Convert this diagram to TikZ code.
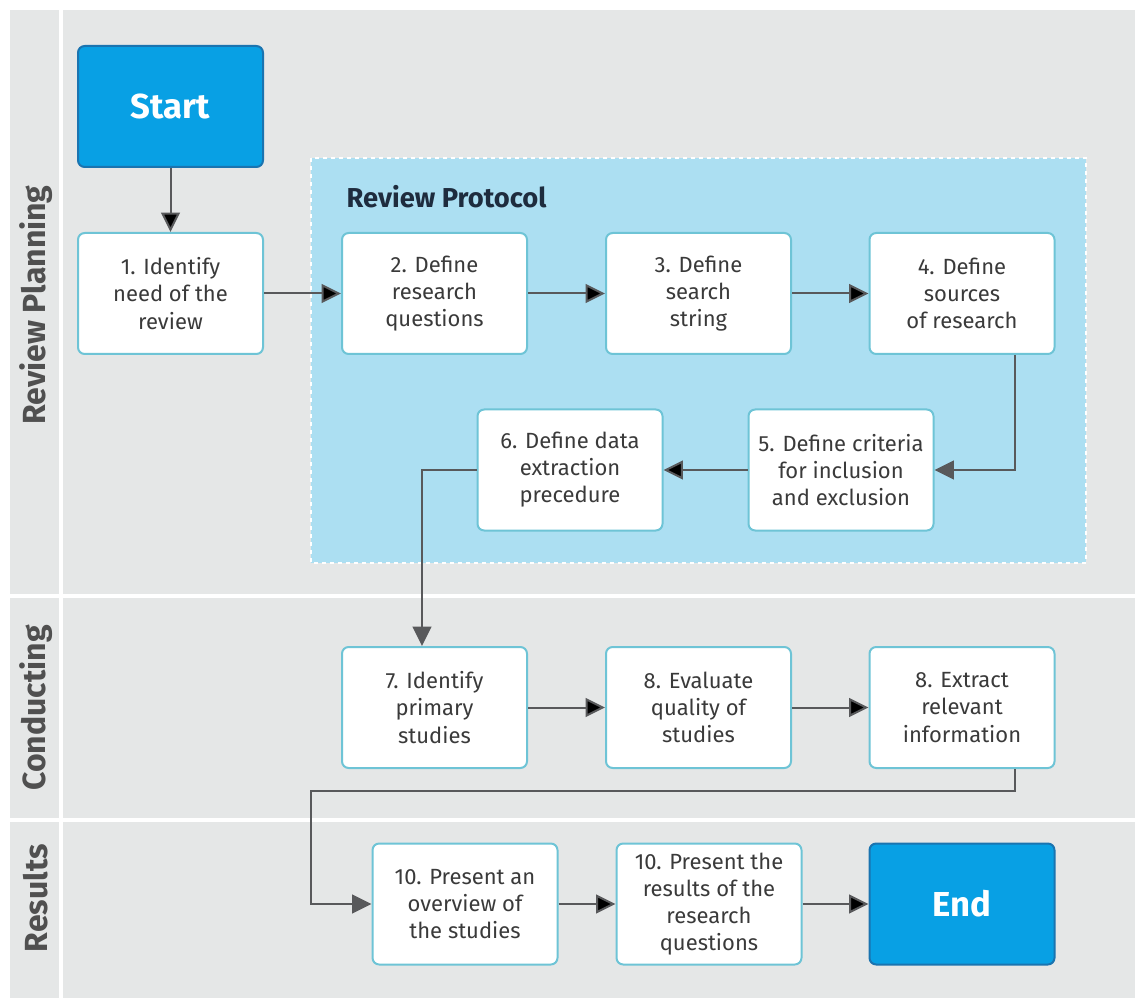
\documentclass[tikz,border=0pt]{standalone}
\usepackage{fontspec}
\setmainfont{Fira Sans}
\usepackage{tikz}
\usetikzlibrary{arrows.meta}
\definecolor{lanegrey}{RGB}{229,231,231}
\definecolor{protoblue}{RGB}{172,223,242}
\definecolor{boxedge}{RGB}{110,196,214}
\definecolor{termfill}{RGB}{8,160,228}
\definecolor{termedge}{RGB}{26,116,176}
\definecolor{flowgrey}{RGB}{88,89,91}
\definecolor{txtgrey}{RGB}{58,58,58}
\definecolor{lblgrey}{RGB}{80,80,80}
\definecolor{navy}{RGB}{30,44,62}
\tikzset{
  step_box/.style = {rectangle, rounded corners=5pt, draw=boxedge, line width=1.5pt,
    fill=white, text=txtgrey, align=center, inner sep=0pt,
    minimum width=138.75pt, minimum height=90.75pt,
    font=\fontsize{16.5}{20.3}\selectfont},% white step box
  term_box/.style = {step_box, draw=termedge, fill=termfill, text=white,
    font=\fontsize{26}{30}\selectfont\bfseries},% start / end
  lane_lbl/.style = {rotate=90, text=lblgrey, font=\fontsize{24}{28}\selectfont\bfseries},
  flow/.style = {draw=flowgrey, line width=1.5pt, -{Triangle[length=14.5pt,width=14pt]}},
}

\begin{document}
\begin{tikzpicture}[x=0.75pt,y=-0.75pt]
  \useasboundingbox (0,0) rectangle (1135,998);
  \fill[white] (0,0) rectangle (1135,998);
  \fill[lanegrey] (10,10) rectangle (1135,998);

  % lanes
  \draw[white, line width=2.5pt] (61,10) -- (61,998);
  \draw[white, line width=2.5pt] (10,596) -- (1135,596);
  \draw[white, line width=2.5pt] (10,820) -- (1135,820);
  \node[lane_lbl] (lp) at (36,305) {Review Planning};
  \node[lane_lbl] (lc) at (36,708) {Conducting};
  \node[lane_lbl] (lr) at (36,898) {Results};

  % review protocol
  \draw[fill=protoblue, draw=white, line width=2pt, dash pattern=on 3pt off 3pt]
    (311,158) rectangle (1086,563);
  \node[anchor=west, text=navy, font=\fontsize{20.5}{24}\selectfont\bfseries] (rp) at (342,197) {Review Protocol};

  \node[term_box] (start) at (170.5,106.5) {Start};
  \node[step_box] (b1) at (170.5,293.5) {1. Identify\\need of the\\review};
  \node[step_box] (b2) at (434.5,293.5) {2. Define\\research\\questions};
  \node[step_box] (b3) at (698.5,293.5) {3. Define\\search\\string};
  \node[step_box] (b4) at (962,293.5) {4. Define\\sources\\of research};
  \node[step_box] (b5) at (841,470) {5. Define criteria\\for inclusion\\and exclusion};
  \node[step_box] (b6) at (570,470) {6. Define data\\extraction\\precedure};

  \node[step_box] (b7) at (434.5,707.5) {7. Identify\\primary\\studies};
  \node[step_box] (b8) at (698.5,707.5) {8. Evaluate\\quality of\\studies};
  \node[step_box] (b9) at (962,707.5) {8. Extract\\relevant\\information};

  \node[step_box] (b10) at (465,904) {10. Present an\\overview of\\the studies};
  \node[step_box] (b11) at (709,904) {10. Present the\\results of the\\research\\questions};
  \node[term_box] (end) at (962,904) {End};

  \coordinate (c9) at (311,791);

  \path[flow] (start) edge (b1);
  \path[flow] (b1) edge (b2);
  \path[flow] (b2) edge (b3);
  \path[flow] (b3) edge (b4);
  \draw[flow] ([xshift=39.75pt]b4.south) |- (b5);
  \path[flow] (b5) edge (b6);
  \draw[flow] (b6.west) -| ([xshift=-9.4pt]b7.north);
  \path[flow] (b7) edge (b8);
  \path[flow] (b8) edge (b9);
  \draw[flow] ([xshift=39.75pt]b9.south) |- (c9) |- (b10);
  \path[flow] (b10) edge (b11);
  \path[flow] (b11) edge (end);
\end{tikzpicture}
\end{document}
